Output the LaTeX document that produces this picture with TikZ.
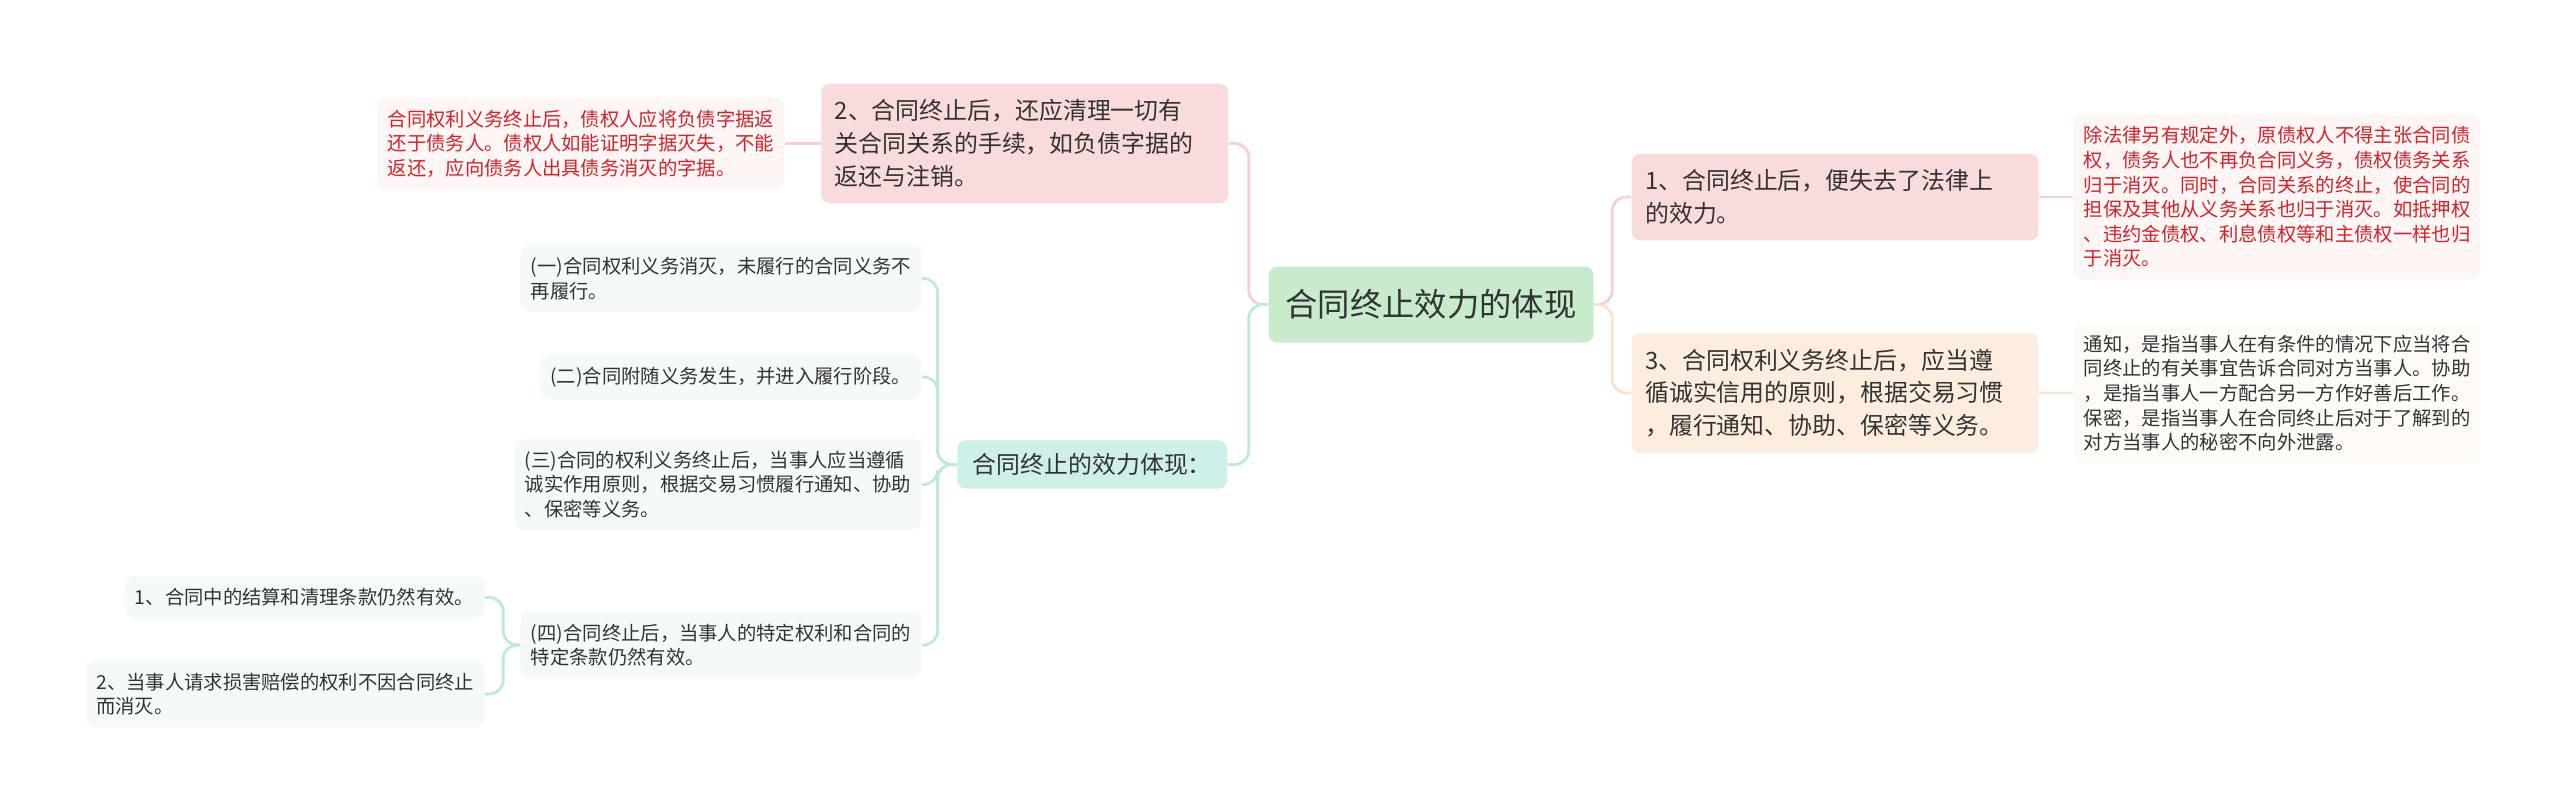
\documentclass[tikz,border=0pt]{standalone}
\usepackage{fontspec}
\setmainfont{Noto Sans CJK SC}
\usepackage{xcolor}
\usepackage{tikz}
\usetikzlibrary{positioning,arrows.meta}

\definecolor{rootfill}{HTML}{C7EBCB}
\definecolor{pinkfill}{HTML}{FADBDC}
\definecolor{orangefill}{HTML}{FDEDDF}
\definecolor{tealfill}{HTML}{CFF0EA}
\definecolor{notepink}{HTML}{FEF5F5}
\definecolor{notecream}{HTML}{FEFAF6}
\definecolor{notegray}{HTML}{F3FAF9}
\definecolor{notered}{HTML}{D2232A}
\definecolor{pinkline}{HTML}{F7CFD1}
\definecolor{orangeline}{HTML}{FBE2CD}
\definecolor{tealline}{HTML}{BFE8E1}
\definecolor{textgray}{HTML}{333333}

\begin{document}
\begin{tikzpicture}[
    title/.style={fill=rootfill, rounded corners=2.5pt, text=textgray, inner xsep=0.17cm, inner ysep=0.23cm, font=\fontsize{9.2}{11}\selectfont},
    point/.style={rounded corners=2.5pt, text=textgray, align=left, text width=3.8cm, inner xsep=0.135cm, inner ysep=0.16cm, font=\fontsize{6.8}{9.3}\selectfont},
    note/.style={rounded corners=2.5pt, text=textgray, align=left, inner xsep=0.1cm, inner ysep=0.12cm, font=\fontsize{5.5}{7}\selectfont},
    link/.style={line width=0.8pt, rounded corners=4pt}
]
\useasboundingbox (0,0) rectangle (25.6,-8.11);

\node[title] (title) at (14.31,-3.045) {合同终止效力的体现};

% right side
\node[point, fill=pinkfill, anchor=west] (point_1) at (16.31,-1.97) {1、合同终止后，便失去了法律上\\的效力。};
\node[point, fill=orangefill, anchor=west] (point_3) at (16.31,-3.93) {3、合同权利义务终止后，应当遵\\循诚实信用的原则，根据交易习惯\\，履行通知、协助、保密等义务。};
\node[note, fill=notepink, text=notered, anchor=west] (note_1) at (20.73,-1.97) {除法律另有规定外，原债权人不得主张合同债\\权，债务人也不再负合同义务，债权债务关系\\归于消灭。同时，合同关系的终止，使合同的\\担保及其他从义务关系也归于消灭。如抵押权\\、违约金债权、利息债权等和主债权一样也归\\于消灭。};
\node[note, fill=notecream, anchor=west] (note_3) at (20.73,-3.93) {通知，是指当事人在有条件的情况下应当将合\\同终止的有关事宜告诉合同对方当事人。协助\\，是指当事人一方配合另一方作好善后工作。\\保密，是指当事人在合同终止后对于了解到的\\对方当事人的秘密不向外泄露。};

% left side
\node[point, fill=pinkfill, anchor=east] (point_2) at (12.29,-1.435) {2、合同终止后，还应清理一切有\\关合同关系的手续，如负债字据的\\返还与注销。};
\node[note, fill=notepink, text=notered, anchor=east] (note_2) at (7.85,-1.435) {合同权利义务终止后，债权人应将负债字据返\\还于债务人。债权人如能证明字据灭失，不能\\返还，应向债务人出具债务消灭的字据。};
\node[point, fill=tealfill, text width=, inner xsep=0.155cm, inner ysep=0.13cm, anchor=east] (effect) at (12.28,-4.645) {合同终止的效力体现：};

\node[note, fill=notegray, anchor=east] (item_1) at (9.22,-2.785) {(一)合同权利义务消灭，未履行的合同义务不\\再履行。};
\node[note, fill=notegray, anchor=east] (item_2) at (9.22,-3.77) {(二)合同附随义务发生，并进入履行阶段。};
\node[note, fill=notegray, anchor=east] (item_3) at (9.22,-4.845) {(三)合同的权利义务终止后，当事人应当遵循\\诚实作用原则，根据交易习惯履行通知、协助\\、保密等义务。};
\node[note, fill=notegray, anchor=east] (item_4) at (9.22,-6.45) {(四)合同终止后，当事人的特定权利和合同的\\特定条款仍然有效。};

\node[note, fill=notegray, anchor=east] (sub_1) at (4.85,-5.975) {1、合同中的结算和清理条款仍然有效。};
\node[note, fill=notegray, anchor=east] (sub_2) at (4.85,-6.94) {2、当事人请求损害赔偿的权利不因合同终止\\而消灭。};

% connectors
\draw[link, pinkline] (title.east) -- ++(0.18,0) |- (point_1.west);
\draw[link, orangeline] (title.east) -- ++(0.18,0) |- (point_3.west);
\draw[link, pinkline] (point_1.east) -- (note_1.west);
\draw[link, orangeline] (point_3.east) -- (note_3.west);

\draw[link, pinkline] (title.west) -- ++(-0.19,0) |- (point_2.east);
\draw[link, tealline] (title.west) -- ++(-0.19,0) |- (effect.east);
\draw[link, pinkline] (point_2.west) -- (note_2.east);

\draw[link, tealline] (effect.west) -- ++(-0.19,0) |- (item_1.east);
\draw[link, tealline] (effect.west) -- ++(-0.19,0) |- (item_2.east);
\draw[link, tealline] (effect.west) -- ++(-0.19,0) |- (item_3.east);
\draw[link, tealline] (effect.west) -- ++(-0.19,0) |- (item_4.east);

\draw[link, tealline] (item_4.west) -- ++(-0.17,0) |- (sub_1.east);
\draw[link, tealline] (item_4.west) -- ++(-0.17,0) |- (sub_2.east);

\end{tikzpicture}
\end{document}
